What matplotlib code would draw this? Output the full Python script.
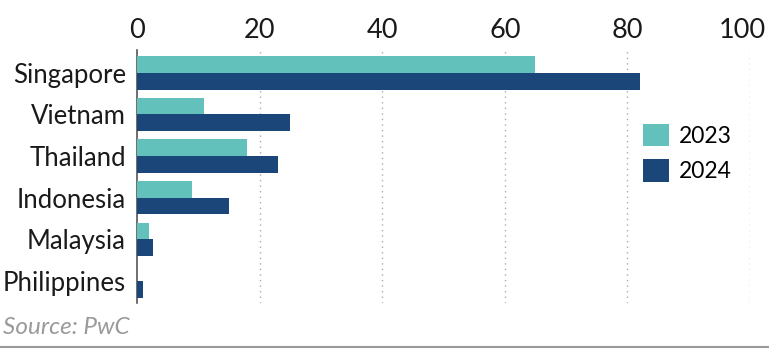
import matplotlib
matplotlib.use("Agg")
import matplotlib.pyplot as plt
import matplotlib.transforms as mtransforms
import numpy as np

countries = ["Singapore", "Vietnam", "Thailand", "Indonesia", "Malaysia", "Philippines"]
values_2023 = [65, 11, 18, 9, 2, 0]
values_2024 = [82, 25, 23, 15, 2.6, 1]
series_labels = ["2023", "2024"]
xticks = [0, 20, 40, 60, 80, 100]

c23 = "#62c2bb"
c24 = "#1b4679"

plt.rcParams["font.family"] = ["Lato", "DejaVu Sans"]

fig = plt.figure(figsize=(7.69, 3.51), dpi=100)
ax = fig.add_axes([137/769, 1-303/351, (750-137)/769, (303-50)/351])

y = np.arange(len(countries))
h = 0.4
ax.barh(y - h/2, values_2023, height=h, color=c23, label=series_labels[0], zorder=3)
ax.barh(y + h/2, values_2024, height=h, color=c24, label=series_labels[1], zorder=3)

ax.set_xlim(0, 100)
ax.set_ylim(5.53, -0.55)
ax.set_yticks(y)
ax.set_yticklabels(countries, fontsize=18.5, color="#1a1a1a")
ax.set_xticks(xticks)
ax.set_xticklabels([str(t) for t in xticks], fontsize=19.5, color="#1a1a1a")
ax.xaxis.tick_top()
ax.tick_params(axis="x", length=0, pad=5)
ax.tick_params(axis="y", length=0, pad=8)

last = ax.get_xticklabels()[-1]
last.set_transform(last.get_transform() + mtransforms.ScaledTranslation(-8/100, 0, fig.dpi_scale_trans))

for t in xticks[1:]:
    ax.axvline(t, color="#aaaaaa", linestyle=(0, (1, 3)), linewidth=1, zorder=1)

for s in ["top", "right", "bottom"]:
    ax.spines[s].set_visible(False)
ax.spines["left"].set_color("#555555")
ax.spines["left"].set_linewidth(1.2)

leg = ax.legend(loc="center left", bbox_to_anchor=((622-137)/613, 1-(153-50)/253),
                frameon=False, handlelength=1.15, handleheight=1.15,
                handletextpad=0.45, labelspacing=0.55,
                prop={"size": 16.5})

fig.text(3/769, 1-328/351, "Source: PwC", fontsize=17.5, style="italic",
         color="#9a9a9a", va="center", ha="left")
fig.add_artist(plt.Line2D([0, 1], [1-347/351, 1-347/351], color="#999999", linewidth=1.5))

fig.savefig("out.png", dpi=100)
